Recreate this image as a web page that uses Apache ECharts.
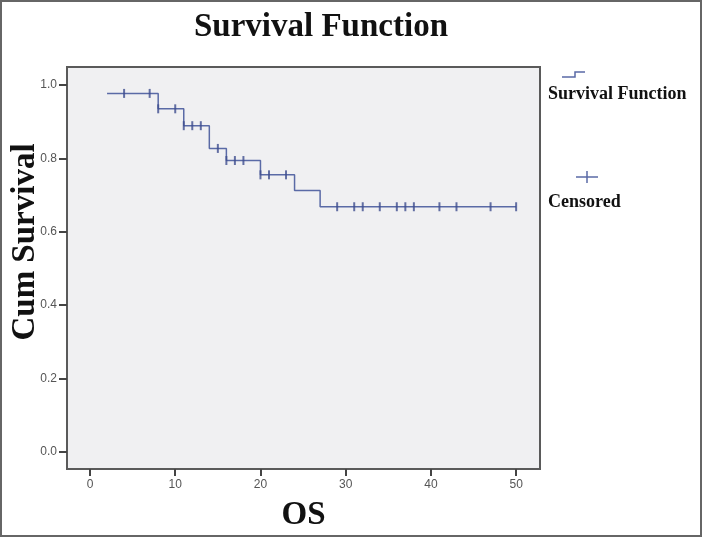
<!DOCTYPE html>
<html lang="en">
<head>
  <meta charset="UTF-8">
  <title>Survival Function</title>
  <script src="https://cdn.jsdelivr.net/npm/echarts@6/dist/echarts.min.js"></script>
  <style>
    html, body { margin: 0; padding: 0; background: #fff; }
    #main { width: 702px; height: 537px; }
  </style>
</head>
<body>
  <div id="main"></div>
  <script type="text/javascript">
    // Kaplan-Meier steps: time the level starts, and survival level
    var stepTimes = [2, 8, 11, 14, 16, 20, 24, 27, 50];
    var stepValues = [0.977, 0.935, 0.889, 0.827, 0.794, 0.755, 0.712, 0.668, 0.668];
    // censored observations (OS time)
    var censoredTimes = [4, 7, 8, 10, 11, 12, 13, 15, 16, 17, 18, 20, 21, 23,
      29, 31, 32, 34, 36, 37, 38, 41, 43, 47, 50];
    var xTicks = [0, 10, 20, 30, 40, 50];
    var yTicks = [0, 0.2, 0.4, 0.6, 0.8, 1.0];

    var serif = '"Liberation Serif", "DejaVu Serif", serif';
    var lineColor = '#5a6aa6';
    var markColor = '#3f4d8e';

    function survivalAt(t) {
      var s = stepValues[0];
      for (var i = 0; i < stepTimes.length; i++) {
        if (stepTimes[i] <= t) s = stepValues[i];
      }
      return s;
    }

    var curve = stepTimes.map(function (t, i) { return [t, stepValues[i]]; });
    var censored = censoredTimes.map(function (t) { return [t, survivalAt(t)]; });

    var chart = echarts.init(document.getElementById('main'));
    var option = {
      animation: false,
      title: {
        text: 'Survival Function',
        left: 316,
        top: 6,
        textAlign: 'center',
        textStyle: { fontFamily: serif, fontWeight: 'bold', fontSize: 33, color: '#111' }
      },
      grid: {
        left: 67, top: 67, right: 162, bottom: 68,
        containLabel: false,
        outerBoundsMode: 'none',
        show: true,
        backgroundColor: '#f0f0f2',
        borderColor: '#5a5a5a',
        borderWidth: 2
      },
      xAxis: {
        type: 'value',
        min: -2.7,
        max: 52.8,
        name: 'OS',
        nameLocation: 'middle',
        nameGap: 30,
        nameTextStyle: { fontFamily: serif, fontWeight: 'bold', fontSize: 33, color: '#111' },
        axisLine: { show: true, onZero: false, lineStyle: { color: '#5a5a5a', width: 2 } },
        axisTick: { show: true, customValues: xTicks, length: 7, lineStyle: { color: '#444', width: 2 } },
        axisLabel: { customValues: xTicks, color: '#555', fontSize: 12, margin: 10, fontFamily: 'Liberation Sans' },
        splitLine: { show: false }
      },
      yAxis: {
        type: 'value',
        min: -0.047,
        max: 1.049,
        axisLine: { show: true, onZero: false, lineStyle: { color: '#5a5a5a', width: 2 } },
        axisTick: { show: true, customValues: yTicks, length: 8, lineStyle: { color: '#444', width: 2 } },
        axisLabel: {
          customValues: yTicks, color: '#555', fontSize: 12, margin: 10, fontFamily: 'Liberation Sans',
          formatter: function (v) { return v.toFixed(1); }
        },
        splitLine: { show: false }
      },
      series: [
        {
          name: 'Survival Function',
          type: 'line',
          step: 'end',
          data: curve,
          showSymbol: false,
          lineStyle: { color: lineColor, width: 1.5 }
        },
        {
          name: 'Censored',
          type: 'scatter',
          data: censored,
          symbol: 'rect',
          symbolSize: [2, 9],
          itemStyle: { color: markColor },
          z: 3
        }
      ],
      graphic: [
        {
          type: 'rect',
          shape: { x: 1, y: 1, width: 700, height: 535 },
          style: { fill: 'none', stroke: '#666', lineWidth: 2 },
          silent: true
        },
        {
          // y axis title, placed as in the reference (above the plot centre)
          type: 'text',
          x: 25, y: 242,
          rotation: Math.PI / 2,
          style: {
            text: 'Cum Survival', fontFamily: serif, fontWeight: 'bold', fontSize: 33, fill: '#111',
            align: 'center', verticalAlign: 'middle'
          }
        },
        {
          type: 'polyline',
          shape: { points: [[562, 77], [575, 77], [575, 72], [585, 72]] },
          style: { stroke: lineColor, lineWidth: 1.5, fill: 'none' }
        },
        {
          type: 'text',
          left: 548, top: 85,
          style: { text: 'Survival Function', fontFamily: serif, fontWeight: 'bold', fontSize: 18, fill: '#111' }
        },
        {
          type: 'polyline',
          shape: { points: [[576, 177], [598, 177]] },
          style: { stroke: lineColor, lineWidth: 1.5, fill: 'none' }
        },
        {
          type: 'polyline',
          shape: { points: [[587, 171], [587, 183]] },
          style: { stroke: lineColor, lineWidth: 1.5, fill: 'none' }
        },
        {
          type: 'text',
          left: 548, top: 193,
          style: { text: 'Censored', fontFamily: serif, fontWeight: 'bold', fontSize: 18, fill: '#111' }
        }
      ]
    };
    chart.setOption(option);
  </script>
</body>
</html>
